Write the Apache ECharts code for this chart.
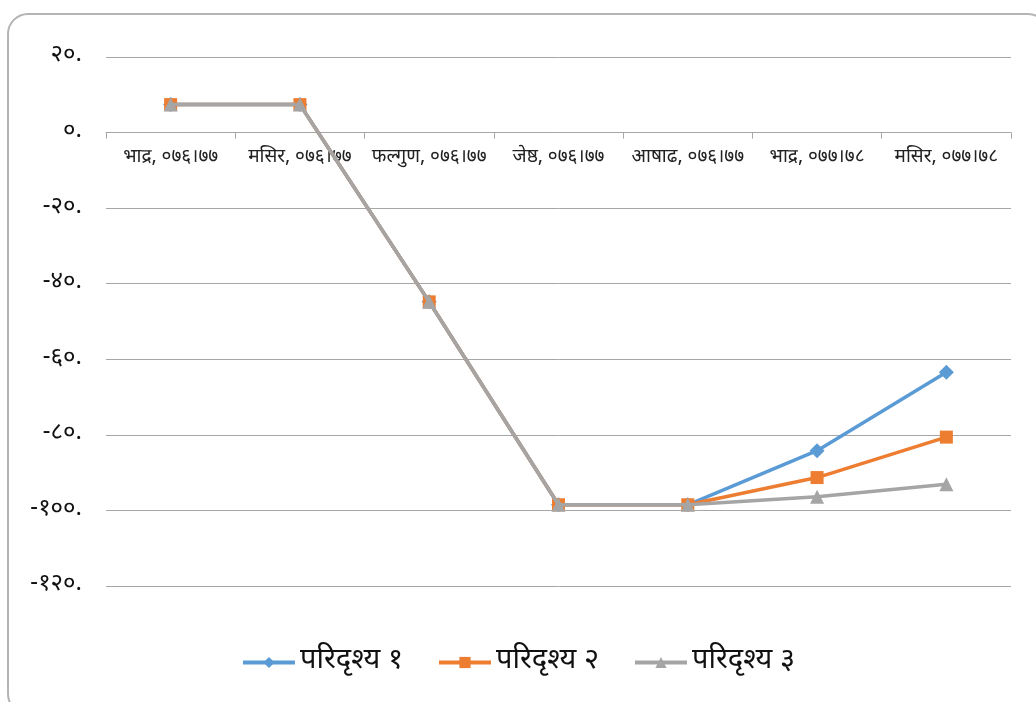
<!DOCTYPE html>
<html>
<head>
<meta charset="utf-8">
<script src="https://cdn.jsdelivr.net/npm/echarts@6/dist/echarts.min.js"></script>
<style>
  html, body { margin: 0; padding: 0; background: #ffffff; }
  #chart { width: 1036px; height: 702px; }
</style>
</head>
<body>
<div id="chart"></div>
<script>
// Periods on the horizontal axis
const categories = ['भाद्र, ०७६।७७', 'मसिर, ०७६।७७', 'फल्गुण, ०७६।७७', 'जेष्ठ, ०७६।७७', 'आषाढ, ०७६।७७', 'भाद्र, ०७७।७८', 'मसिर, ०७७।७८'];

// Scenario values
const scenario1 = [7.4, 7.4, -44.8, -98.5, -98.5, -84.2, -63.4];
const scenario2 = [7.4, 7.4, -44.8, -98.5, -98.5, -91.3, -80.6];
const scenario3 = [7.4, 7.4, -44.8, -98.5, -98.5, -96.4, -93.1];

const seriesNames = ['परिदृश्य १', 'परिदृश्य २', 'परिदृश्य ३'];

// Value-axis tick labels, from min (-120) to max (20) in steps of 20
const yTickValues = [-120, -100, -80, -60, -40, -20, 0, 20];
const yTickLabels = ['-१२०.', '-१००.', '-८०.', '-६०.', '-४०.', '-२०.', '०.', '२०.'];

const DEVA = '"Noto Sans Devanagari", "Noto Sans", "DejaVu Sans", sans-serif';
const colors = ['#5B9BD5', '#ED7D31', '#A5A5A5'];
const symbols = ['diamond', 'rect', 'triangle'];
const symbolSizes = [15, 13, 14];
const values = [scenario1, scenario2, scenario3];

const chart = echarts.init(document.getElementById('chart'));

chart.setOption({
  backgroundColor: '#ffffff',
  animation: false,
  graphic: [{
    type: 'rect',
    shape: { x: 8, y: 14, width: 1040, height: 700, r: 20 },
    style: { fill: 'none', stroke: '#b4b4b4', lineWidth: 2 },
    silent: true,
    z: -1
  }],
  grid: { left: 106, right: 25, top: 57, bottom: 116, containLabel: false },
  legend: {
    bottom: 20,
    left: 'center',
    itemWidth: 52,
    itemHeight: 14,
    itemGap: 34,
    data: seriesNames,
    lineStyle: { width: 4 },
    textStyle: { fontFamily: DEVA, fontSize: 29, color: '#111' }
  },
  xAxis: [{
    // main category axis: line and boundary ticks sit on the zero line
    type: 'category',
    data: categories,
    boundaryGap: true,
    axisLine: { onZero: true, lineStyle: { color: '#a6a6a6', width: 1 } },
    axisTick: { show: true, length: 6, lineStyle: { color: '#a6a6a6' } },
    axisLabel: { show: false },
    splitLine: { show: false }
  }, {
    // label-only copy of the axis, moved down to the zero line
    type: 'category',
    data: categories,
    position: 'top',
    offset: -75.5,
    boundaryGap: true,
    axisLine: { show: false },
    axisTick: { show: false },
    axisLabel: { inside: true, interval: 0, margin: 16, fontFamily: DEVA, fontSize: 19, color: '#222' },
    splitLine: { show: false }
  }],
  yAxis: {
    type: 'value',
    min: -120,
    max: 20,
    interval: 20,
    axisLine: { show: false },
    axisTick: { show: false },
    splitLine: { lineStyle: { color: '#a6a6a6', width: 1 } },
    axisLabel: {
      margin: 24,
      fontFamily: DEVA,
      fontSize: 24,
      color: '#111',
      formatter: function (v) {
        const i = yTickValues.indexOf(v);
        return i >= 0 ? yTickLabels[i] : '';
      }
    }
  },
  series: seriesNames.map(function (name, i) {
    return {
      name: name,
      type: 'line',
      xAxisIndex: 0,
      data: values[i],
      symbol: symbols[i],
      symbolSize: symbolSizes[i],
      showAllSymbol: true,
      lineStyle: { color: colors[i], width: 3.5 },
      itemStyle: { color: colors[i] },
      z: 2 + i
    };
  })
});
</script>
</body>
</html>
